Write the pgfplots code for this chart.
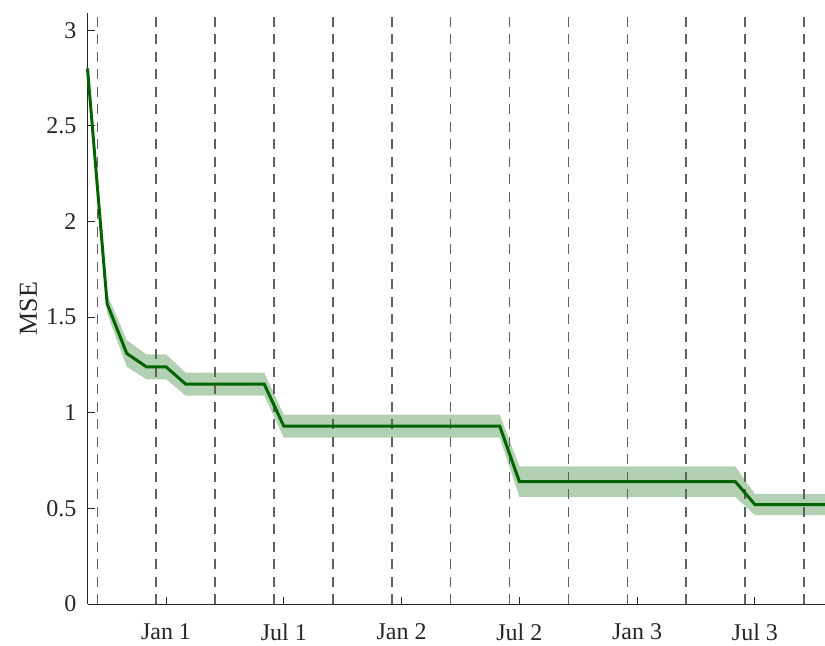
\documentclass[border=0pt]{standalone}
\usepackage{pgfplots}
\pgfplotsset{compat=1.18}
\usepgfplotslibrary{fillbetween}
\usepackage{fontspec}
\setmainfont{Liberation Serif}
\definecolor{lgreen}{RGB}{0,100,0}
\definecolor{axgray}{RGB}{38,38,38}
\begin{document}
\begin{tikzpicture}
\begin{axis}[
  name=ax,
  scale only axis,
  width=368.75pt, height=295.5pt,
  xmin=0, xmax=37.57, ymin=0, ymax=3.09,
  axis x line*=bottom, axis y line*=left,
  axis line style={axgray, line width=0.5pt, -},
  xtick={4,10,16,22,28,34},
  xticklabels={Jan 1,Jul 1,Jan 2,Jul 2,Jan 3,Jul 3},
  ytick={0,0.5,1,1.5,2,2.5,3},
  yticklabels={0,0.5,1,1.5,2,2.5,3},
  tick align=inside,
  major tick length=3.5pt,
  tick style={axgray, line width=0.5pt},
  tick label style={font=\fontsize{12}{14}\selectfont, text=axgray},
  xticklabel style={yshift=-6.5pt},
  yticklabel style={xshift=-2pt},
  ylabel={MSE},
  ylabel style={font=\fontsize{13}{15}\selectfont, text=axgray, at={(axis description cs:0,0.5)}, anchor=center, rotate=0, yshift=29.5pt},
  clip=false,
]
% dashed reference lines
\pgfplotsinvokeforeach{0.5,3.5,6.5,9.5,12.5,15.5,18.5,21.5,24.5,27.5,30.5,33.5,36.5}{
  \addplot[gray!75!black, line width=0.8pt, dash pattern=on 5pt off 3.75pt, forget plot] coordinates {(#1,0) (#1,3.09)};
}
% band
\addplot[draw=none, name path=up, forget plot] coordinates {
(0,2.82) (1,1.62) (2,1.38) (3,1.305) (4,1.305) (5,1.21) (9,1.21) (10,0.99) (21,0.99) (22,0.72) (33,0.72) (34,0.575) (37.57,0.575)};
\addplot[draw=none, name path=lo, forget plot] coordinates {
(0,2.78) (1,1.52) (2,1.24) (3,1.175) (4,1.175) (5,1.09) (9,1.09) (10,0.87) (21,0.87) (22,0.56) (33,0.56) (34,0.465) (37.57,0.465)};
\addplot[lgreen, fill opacity=0.3, draw=none, forget plot] fill between[of=up and lo];
% mean line
\addplot[lgreen, line width=1.5pt] coordinates {
(0,2.8) (1,1.57) (2,1.31) (3,1.24) (4,1.24) (5,1.15) (9,1.15) (10,0.93) (21,0.93) (22,0.64) (33,0.64) (34,0.52) (37.57,0.52)};
\end{axis}
\pgfresetboundingbox
\path ([shift={(-43.75pt,-20.5pt)}]ax.south west) rectangle ([shift={(0pt,6.5pt)}]ax.north east);
\end{tikzpicture}
\end{document}
